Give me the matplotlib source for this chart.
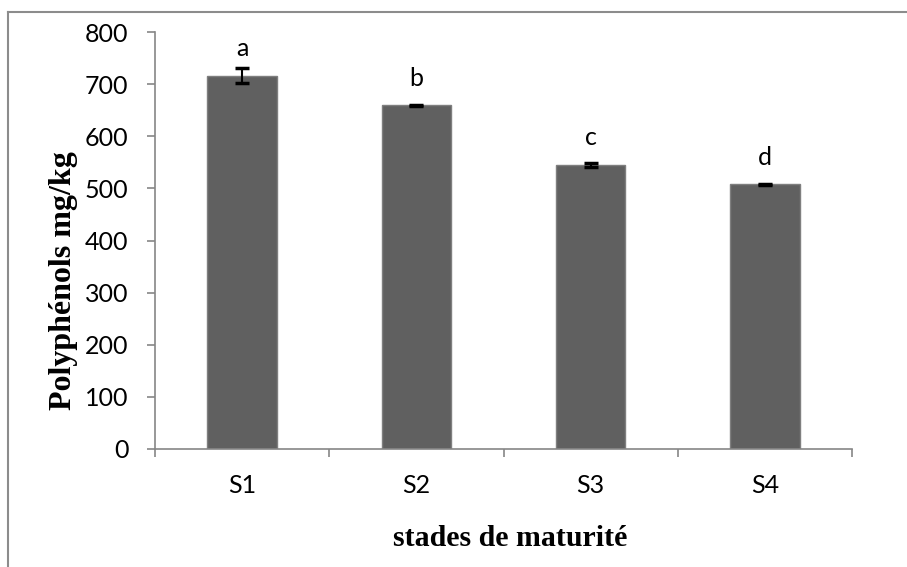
import numpy as np
import matplotlib
matplotlib.use("Agg")
import matplotlib.pyplot as plt
from matplotlib.lines import Line2D

stades = ["S1", "S2", "S3", "S4"]
polyphenols = [716, 659, 545, 508]
erreurs = [14, 1, 4, 1]
lettres = ["a", "b", "c", "d"]

W, H = 907, 567
fig = plt.figure(figsize=(W / 100, H / 100), dpi=100)

# cadre du graphique (coupé à droite et en bas)
gris_cadre = "#8c8c8c"
fig.add_artist(Line2D([8 / W, 1], [1 - 12 / H, 1 - 12 / H], color=gris_cadre, lw=1.5,
                      transform=fig.transFigure))
fig.add_artist(Line2D([8 / W, 8 / W], [0, 1 - 12 / H], color=gris_cadre, lw=1.5,
                      transform=fig.transFigure))

ax = fig.add_axes([155 / W, (H - 449) / H, 697 / W, (449 - 32) / H])

x = np.arange(len(stades))
ax.bar(x, polyphenols, width=0.4, color="#606060", edgecolor="#7f7f7f", linewidth=1,
       yerr=erreurs, capsize=4.7, error_kw=dict(ecolor="black", elinewidth=1.5, capthick=2.5))

for xi, v, lt in zip(x, polyphenols, lettres):
    ax.text(xi, v + 52, lt, ha="center", va="center", fontsize=18, family="Lato")

ax.set_xlim(-0.5, len(stades) - 0.5)
ax.set_ylim(0, 800)
ax.set_yticks(np.arange(0, 801, 100))

ax.set_xticks(x)
ax.set_xticklabels(stades, family="Lato", fontsize=18)
ax.set_xticks(np.arange(-0.5, len(stades), 1), minor=True)
ax.tick_params(axis="x", which="major", length=0, pad=18)
ax.tick_params(axis="x", which="minor", length=6, width=1.2, color="#868686", direction="out")
ax.tick_params(axis="y", length=6, width=1.2, color="#868686", direction="out", pad=13,
               labelsize=18)
for lab in ax.get_yticklabels():
    lab.set_family("Lato")

for s in ["top", "right"]:
    ax.spines[s].set_visible(False)
for s in ["left", "bottom"]:
    ax.spines[s].set_color("#868686")
    ax.spines[s].set_linewidth(1.2)

ax.set_ylabel("Polyphénols mg/kg", family="Liberation Serif", fontweight="bold",
              fontsize=23, va="center")
ax.yaxis.set_label_coords((63 - 155) / 697, (449 - 281) / (449 - 32))

ax.set_xlabel("stades de maturité", family="Liberation Serif", fontweight="bold",
              fontsize=21.5, va="center")
ax.xaxis.set_label_coords((510 - 155) / 697, -(538 - 449) / (449 - 32))

fig.savefig("out.png", dpi=100)
